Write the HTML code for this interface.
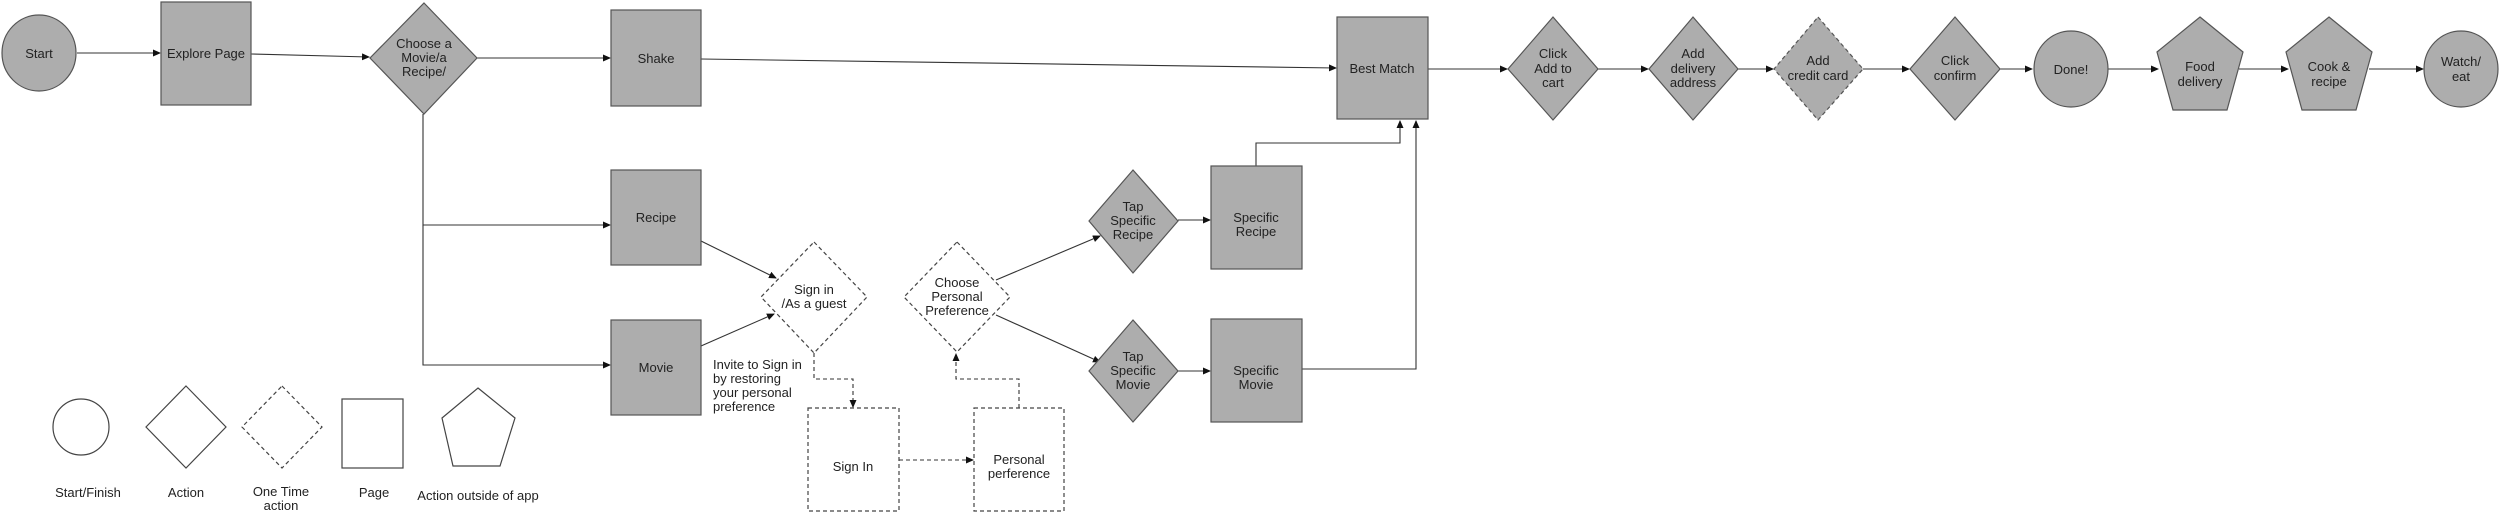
<!DOCTYPE html>
<html><head><meta charset="utf-8"><style>
html,body{margin:0;padding:0;background:#fff;}
svg{display:block;}
text{font-family:"Liberation Sans",Arial,sans-serif;font-size:13px;fill:#222;text-anchor:middle;}
.n{fill:#adadad;stroke:#555;stroke-width:1.2;}
.o{fill:none;stroke:#444;stroke-width:1.2;}
.d{stroke-dasharray:4,3;}
.l{fill:none;stroke:#333;stroke-width:1.1;}
</style></head><body>
<svg width="2500" height="517" viewBox="0 0 2500 517" xmlns="http://www.w3.org/2000/svg">
<defs><marker id="a" markerWidth="8" markerHeight="8" refX="7" refY="3.5" orient="auto" markerUnits="userSpaceOnUse"><path d="M0,0 L8,3.5 L0,7 z" fill="#111"/></marker></defs>

<!-- connectors -->
<g class="l" marker-end="url(#a)">
<line x1="77" y1="53" x2="160" y2="53"/>
<line x1="251" y1="54" x2="369" y2="57"/>
<line x1="477" y1="58" x2="610" y2="58"/>
<polyline points="423,114 423,225 610,225"/>
<polyline points="423,225 423,365 610,365"/>
<line x1="701" y1="59" x2="1336" y2="68"/>
<line x1="1428" y1="69" x2="1507" y2="69"/>
<line x1="1598" y1="69" x2="1648" y2="69"/>
<line x1="1738" y1="69" x2="1773" y2="69"/>
<line x1="1863" y1="69" x2="1909" y2="69"/>
<line x1="2000" y1="69" x2="2032" y2="69"/>
<line x1="2108" y1="69" x2="2158" y2="69"/>
<line x1="2239" y1="69" x2="2288" y2="69"/>
<line x1="2369" y1="69" x2="2423" y2="69"/>
<line x1="701" y1="241" x2="776" y2="278"/>
<line x1="701" y1="346" x2="774" y2="314"/>
<line x1="996" y1="280" x2="1100" y2="236"/>
<line x1="996" y1="315" x2="1100" y2="362"/>
<line x1="1178" y1="220" x2="1210" y2="220"/>
<line x1="1178" y1="371" x2="1210" y2="371"/>
<polyline points="1256,166 1256,143 1400,143 1400,121"/>
<polyline points="1302,369 1416,369 1416,121"/>
<g class="d">
<polyline points="814,353 814,379 853,379 853,407"/>
<line x1="899" y1="460" x2="973" y2="460"/>
<polyline points="1019,408 1019,379 956,379 956,354"/>
</g>
</g>

<!-- top row nodes -->
<ellipse class="n" cx="39" cy="53" rx="37" ry="38"/><text x="39" y="58">Start</text>
<rect class="n" x="161" y="2" width="90" height="103"/><text x="206" y="58">Explore Page</text>
<polygon class="n" points="424,3 477,58 424,114 370,58"/>
<text x="424" y="48">Choose a</text><text x="424" y="62">Movie/a</text><text x="424" y="76">Recipe/</text>
<rect class="n" x="611" y="10" width="90" height="96"/><text x="656" y="63">Shake</text>
<rect class="n" x="611" y="170" width="90" height="95"/><text x="656" y="222">Recipe</text>
<rect class="n" x="611" y="320" width="90" height="95"/><text x="656" y="372">Movie</text>
<rect class="n" x="1337" y="17" width="91" height="102"/><text x="1382" y="73">Best Match</text>
<polygon class="n" points="1553,17 1598,69 1553,120 1508,69"/>
<text x="1553" y="58">Click</text><text x="1553" y="73">Add to</text><text x="1553" y="87">cart</text>
<polygon class="n" points="1693,17 1738,69 1693,120 1649,69"/>
<text x="1693" y="58">Add</text><text x="1693" y="73">delivery</text><text x="1693" y="87">address</text>
<polygon class="n d" points="1818,17 1863,69 1818,120 1774,69"/>
<text x="1818" y="65">Add</text><text x="1818" y="80">credit card</text>
<polygon class="n" points="1955,17 2000,69 1955,120 1910,69"/>
<text x="1955" y="65">Click</text><text x="1955" y="80">confirm</text>
<ellipse class="n" cx="2071" cy="69" rx="37" ry="38"/><text x="2071" y="74">Done!</text>
<polygon class="n" points="2200,17 2243,52 2227,110 2173,110 2157,52"/>
<text x="2200" y="71">Food</text><text x="2200" y="86">delivery</text>
<polygon class="n" points="2329,17 2372,52 2356,110 2302,110 2286,52"/>
<text x="2329" y="71">Cook &amp;</text><text x="2329" y="86">recipe</text>
<ellipse class="n" cx="2461" cy="69" rx="37" ry="38"/><text x="2461" y="66">Watch/</text><text x="2461" y="81">eat</text>

<!-- middle -->
<polygon class="o d" points="814,242 867,297 814,353 761,297"/>
<text x="814" y="294">Sign in</text><text x="814" y="308">/As a guest</text>
<g style="text-anchor:start">
<text x="713" y="369" style="text-anchor:start">Invite to Sign in</text>
<text x="713" y="383" style="text-anchor:start">by restoring</text>
<text x="713" y="397" style="text-anchor:start">your personal</text>
<text x="713" y="411" style="text-anchor:start">preference</text>
</g>
<rect class="o d" x="808" y="408" width="91" height="103"/><text x="853" y="471">Sign In</text>
<rect class="o d" x="974" y="408" width="90" height="103"/>
<text x="1019" y="464">Personal</text><text x="1019" y="478">perference</text>
<polygon class="o d" points="957,242 1010,297 957,352 904,297"/>
<text x="957" y="287">Choose</text><text x="957" y="301">Personal</text><text x="957" y="315">Preference</text>
<polygon class="n" points="1133,170 1178,221 1133,273 1089,221"/>
<text x="1133" y="211">Tap</text><text x="1133" y="225">Specific</text><text x="1133" y="239">Recipe</text>
<polygon class="n" points="1133,320 1178,371 1133,422 1089,371"/>
<text x="1133" y="361">Tap</text><text x="1133" y="375">Specific</text><text x="1133" y="389">Movie</text>
<rect class="n" x="1211" y="166" width="91" height="103"/>
<text x="1256" y="222">Specific</text><text x="1256" y="236">Recipe</text>
<rect class="n" x="1211" y="319" width="91" height="103"/>
<text x="1256" y="375">Specific</text><text x="1256" y="389">Movie</text>

<!-- legend -->
<ellipse class="o" cx="81" cy="427" rx="28" ry="28"/>
<polygon class="o" points="186,386 226,427 186,468 146,427"/>
<polygon class="o d" points="282,386 322,427 282,468 242,427"/>
<rect class="o" x="342" y="399" width="61" height="69"/>
<polygon class="o" points="478,388 515,418 500,466 453,466 442,418"/>
<text x="88" y="497">Start/Finish</text>
<text x="186" y="497">Action</text>
<text x="281" y="496">One Time</text><text x="281" y="510">action</text>
<text x="374" y="497">Page</text>
<text x="478" y="500">Action outside of app</text>
</svg>
</body></html>
